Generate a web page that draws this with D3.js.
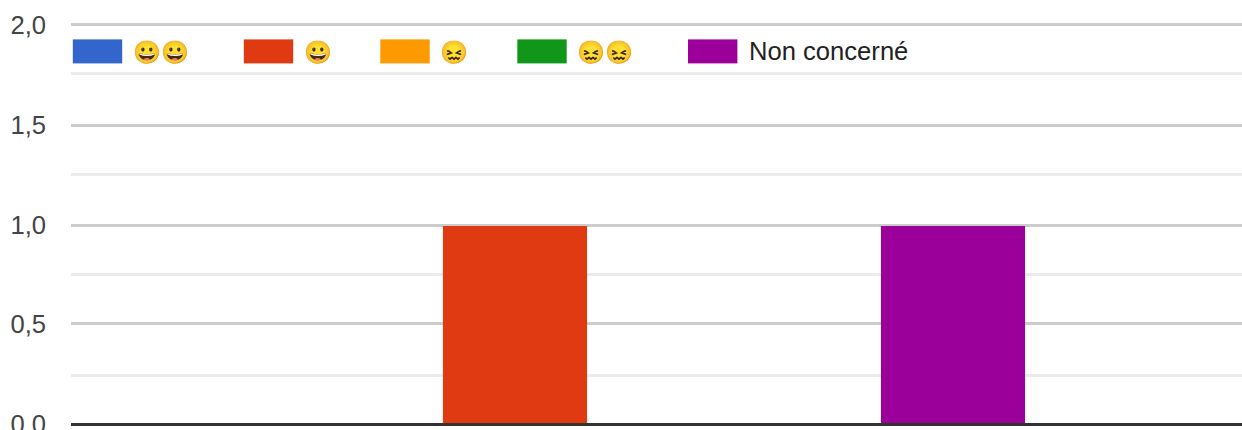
<!DOCTYPE html>
<html><head><meta charset="utf-8">
<script src="https://cdnjs.cloudflare.com/ajax/libs/d3/7.8.5/d3.min.js"></script>
<style>html,body{margin:0;padding:0;background:#fff;overflow:hidden}svg{display:block}text{font-family:"Liberation Sans",Arial,sans-serif;opacity:.995}</style>
</head><body><svg id="c" width="1242" height="430"></svg>
<script>
const categories = ["A", "B"];
const seriesValues = [1, 1];
const barColors = ["#e03a12", "#9b009b"];
const legendLabels = ["😀😀", "😀", "😖", "😖😖", "Non concerné"];
const legendColors = ["#3366cc", "#e03a12", "#ff9900", "#109618", "#9b009b"];
const majorTicks = [0, 0.5, 1, 1.5, 2];
const minorTicks = [0.25, 0.75, 1.25, 1.75];
const tickLabels = ["0,0", "0,5", "1,0", "1,5", "2,0"];

const svg = d3.select("#c");
// The reference's gridlines are snapped to device rows, so the scale is calibrated on them.
const y = d3.scaleLinear()
  .domain([0, 0.25, 0.5, 0.75, 1, 1.25, 1.5, 1.75, 2])
  .range([424.5, 375.5, 323.5, 274.5, 225.5, 174.5, 125.5, 73.5, 24.5]);
const yLabel = d3.scaleLinear().domain([0, 2]).range([433, 34]);
const x = d3.scaleBand().domain(categories).range([296, 1172]).paddingInner(0.671).paddingOuter(0.3355);
const L = 71, R = 1242;

svg.selectAll("line.minor").data(minorTicks).join("line").attr("class", "minor").attr("x1", L).attr("x2", R)
  .attr("y1", d => y(d)).attr("y2", d => y(d)).attr("stroke", "#ebebeb").attr("stroke-width", 3);
svg.selectAll("line.major").data(majorTicks.slice(1)).join("line").attr("class", "major").attr("x1", L).attr("x2", R)
  .attr("y1", d => y(d)).attr("y2", d => y(d)).attr("stroke", "#cccccc").attr("stroke-width", 3);

svg.selectAll("rect.bar").data(categories).join("rect").attr("class", "bar")
  .attr("x", d => x(d)).attr("width", x.bandwidth())
  .attr("y", (d, i) => y(seriesValues[i]) + 0.5).attr("height", (d, i) => y(0) - y(seriesValues[i]) - 0.5)
  .attr("fill", (d, i) => barColors[i]);

svg.append("line").attr("x1", L).attr("x2", R).attr("y1", y(0)).attr("y2", y(0)).attr("stroke", "#333").attr("stroke-width", 3);

svg.selectAll("text.tick").data(majorTicks).join("text").attr("class", "tick")
  .attr("x", 46).attr("y", d => yLabel(d)).attr("text-anchor", "end")
  .attr("font-size", 25.6).attr("fill", "#444").text((d, i) => tickLabels[i]);

const legendStarts = [72.8, 243.8, 380.3, 517.3, 688];
const lg = svg.selectAll("g.lg").data(legendLabels).join("g").attr("class", "lg")
  .attr("transform", (d, i) => `translate(${legendStarts[i]},39.4)`);
lg.append("rect").attr("width", 49.4).attr("height", 24).attr("fill", (d, i) => legendColors[i]);
lg.append("text").attr("x", d => d === "Non concerné" ? 61 : 60).attr("y", 20.6).attr("fill", "#222")
  .attr("font-size", d => d === "Non concerné" ? 25.6 : 22.5).text(d => d);
</script></body></html>
